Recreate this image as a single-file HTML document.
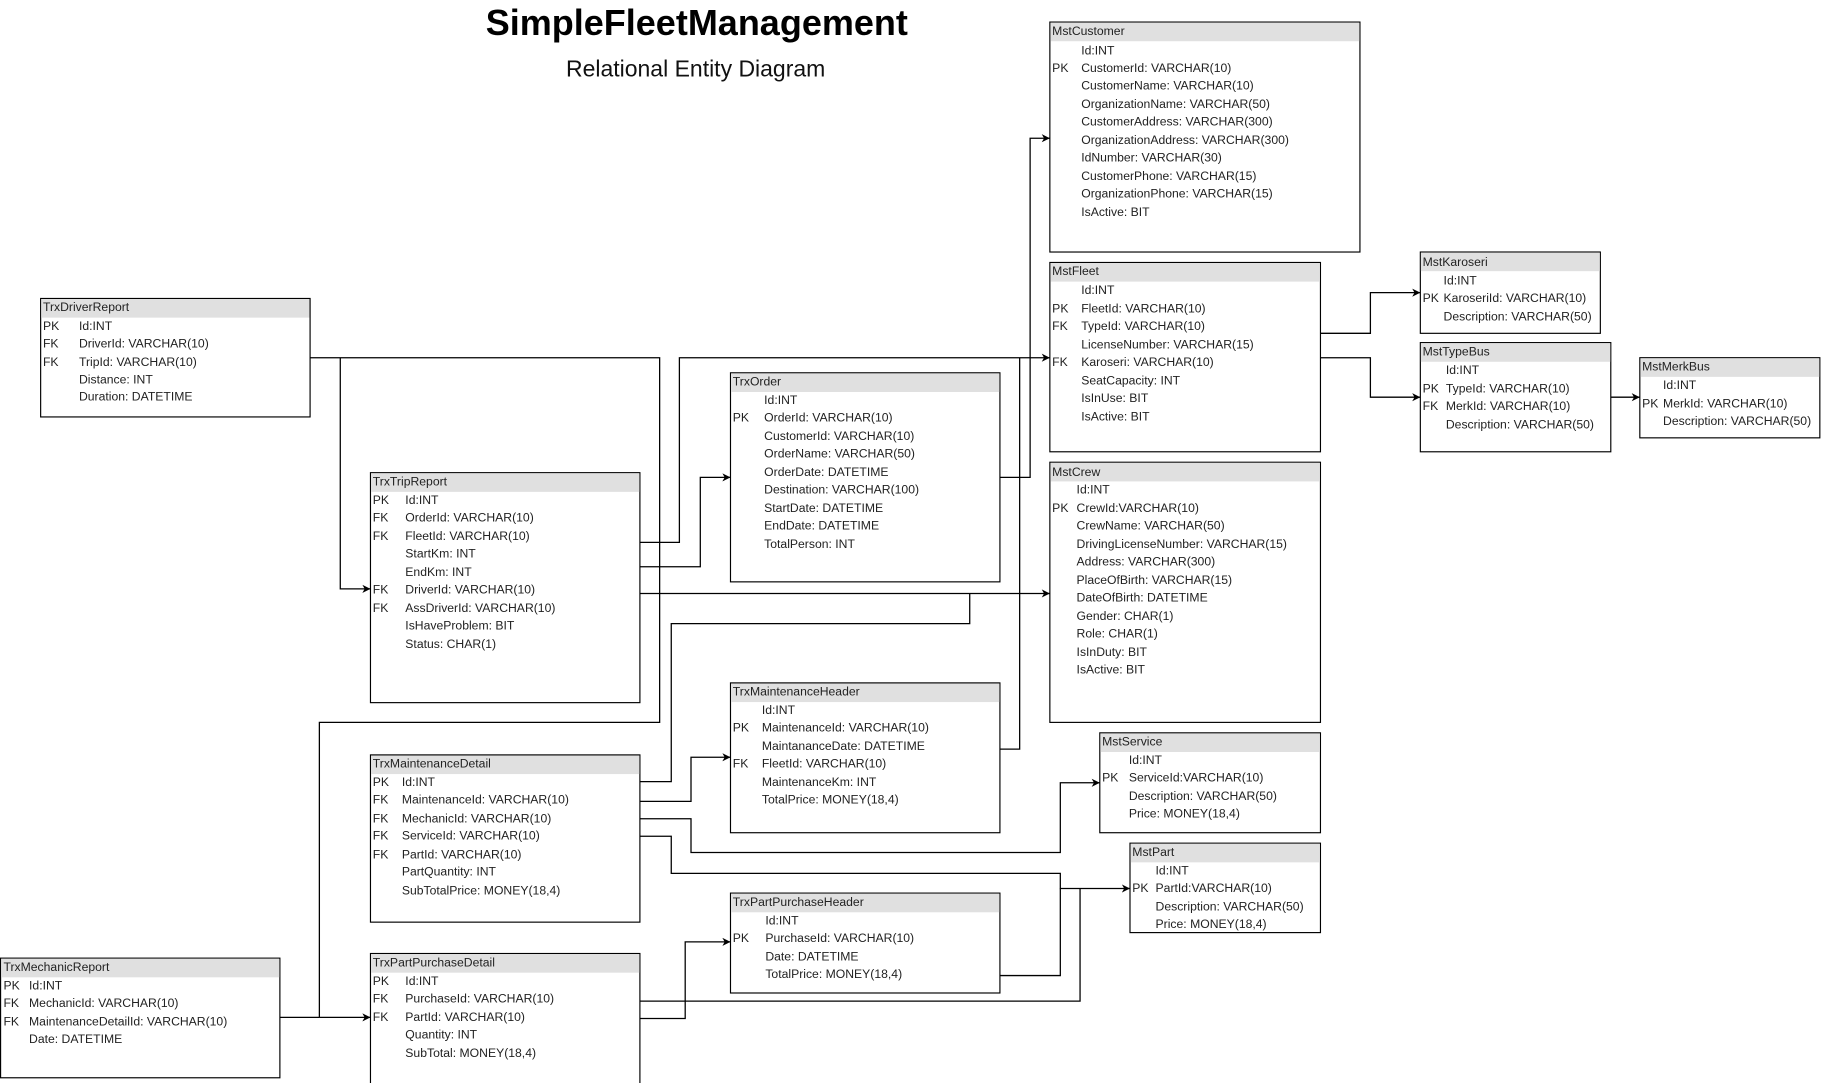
<!DOCTYPE html>
<html><head><meta charset="utf-8"><style>
html,body{margin:0;padding:0;background:#fff;}
svg{display:block;}
text{font-family:"Liberation Sans",Arial,sans-serif;font-size:10.5px;fill:#222;}
.h{fill:#e0e0e0;stroke:none;}
.b{fill:#fff;stroke:#000;stroke-width:1;}
.l{fill:none;stroke:#000;stroke-width:1.1;}
</style></head><body>
<svg width="1821" height="1083" viewBox="0 0 1568 932.5" preserveAspectRatio="none" xmlns="http://www.w3.org/2000/svg">
<defs><marker id="a" markerWidth="8" markerHeight="8" refX="7" refY="4" orient="auto" markerUnits="userSpaceOnUse"><path d="M0,0.5 L7,4 L0,7.5 L2,4 Z" fill="#000"/></marker></defs>
<text x="600" y="30" text-anchor="middle" style="font-size:31px;font-weight:bold;fill:#000">SimpleFleetManagement</text>
<text x="599" y="66" text-anchor="middle" style="font-size:19.8px;fill:#111">Relational Entity Diagram</text>

<!-- connectors -->
<path class="l" d="M267,308 H568 V622 H275 V876 M241,876 H275"/>
<path class="l" d="M293,308 V507 H319" marker-end="url(#a)"/>
<path class="l" d="M275,876 H319" marker-end="url(#a)"/>
<path class="l" d="M551,467 H585 V308 H904" marker-end="url(#a)"/>
<path class="l" d="M551,488 H603 V411 H629" marker-end="url(#a)"/>
<path class="l" d="M551,511 H904" marker-end="url(#a)"/>
<path class="l" d="M861,411 H887 V119 H904" marker-end="url(#a)"/>
<path class="l" d="M861,645 H878 V308"/>
<path class="l" d="M551,673 H578 V537 H835 V511"/>
<path class="l" d="M551,690 H595 V652 H629" marker-end="url(#a)"/>
<path class="l" d="M551,705 H595 V734 H913 V674 H947" marker-end="url(#a)"/>
<path class="l" d="M551,720 H578 V752 H913 V765 H973" marker-end="url(#a)"/>
<path class="l" d="M861,840 H913 V765"/>
<path class="l" d="M551,862 H930 V765"/>
<path class="l" d="M551,877 H590 V811 H629" marker-end="url(#a)"/>
<path class="l" d="M1137,287 H1180 V252 H1223" marker-end="url(#a)"/>
<path class="l" d="M1137,308 H1180 V342 H1223" marker-end="url(#a)"/>
<path class="l" d="M1387,342 H1412" marker-end="url(#a)"/>

<!-- TrxDriverReport -->
<rect class="b" x="35" y="257" width="232" height="102"/><rect class="h" x="35.5" y="257.5" width="231" height="16"/>
<text x="37" y="268">TrxDriverReport</text>
<text x="37" y="284">PK</text><text x="68" y="284">Id:INT</text>
<text x="37" y="299">FK</text><text x="68" y="299">DriverId: VARCHAR(10)</text>
<text x="37" y="315">FK</text><text x="68" y="315">TripId: VARCHAR(10)</text>
<text x="68" y="330">Distance: INT</text>
<text x="68" y="345">Duration: DATETIME</text>

<!-- TrxTripReport -->
<rect class="b" x="319" y="407" width="232" height="198"/><rect class="h" x="319.5" y="407.5" width="231" height="16"/>
<text x="321" y="418">TrxTripReport</text>
<text x="321" y="434">PK</text><text x="349" y="434">Id:INT</text>
<text x="321" y="449">FK</text><text x="349" y="449">OrderId: VARCHAR(10)</text>
<text x="321" y="465">FK</text><text x="349" y="465">FleetId: VARCHAR(10)</text>
<text x="349" y="480">StartKm: INT</text>
<text x="349" y="496">EndKm: INT</text>
<text x="321" y="511">FK</text><text x="349" y="511">DriverId: VARCHAR(10)</text>
<text x="321" y="527">FK</text><text x="349" y="527">AssDriverId: VARCHAR(10)</text>
<text x="349" y="542">IsHaveProblem: BIT</text>
<text x="349" y="558">Status: CHAR(1)</text>

<!-- TrxOrder -->
<rect class="b" x="629" y="321" width="232" height="180"/><rect class="h" x="629.5" y="321.5" width="231" height="16"/>
<text x="631" y="332">TrxOrder</text>
<text x="658" y="348">Id:INT</text>
<text x="631" y="363">PK</text><text x="658" y="363">OrderId: VARCHAR(10)</text>
<text x="658" y="379">CustomerId: VARCHAR(10)</text>
<text x="658" y="394">OrderName: VARCHAR(50)</text>
<text x="658" y="410">OrderDate: DATETIME</text>
<text x="658" y="425">Destination: VARCHAR(100)</text>
<text x="658" y="441">StartDate: DATETIME</text>
<text x="658" y="456">EndDate: DATETIME</text>
<text x="658" y="472">TotalPerson: INT</text>

<!-- MstCustomer -->
<rect class="b" x="904" y="19" width="267" height="198"/><rect class="h" x="904.5" y="19.5" width="266" height="16"/>
<text x="906" y="30">MstCustomer</text>
<text x="931" y="47">Id:INT</text>
<text x="906" y="62">PK</text><text x="931" y="62">CustomerId: VARCHAR(10)</text>
<text x="931" y="77">CustomerName: VARCHAR(10)</text>
<text x="931" y="93">OrganizationName: VARCHAR(50)</text>
<text x="931" y="108">CustomerAddress: VARCHAR(300)</text>
<text x="931" y="124">OrganizationAddress: VARCHAR(300)</text>
<text x="931" y="139">IdNumber: VARCHAR(30)</text>
<text x="931" y="155">CustomerPhone: VARCHAR(15)</text>
<text x="931" y="170">OrganizationPhone: VARCHAR(15)</text>
<text x="931" y="186">IsActive: BIT</text>

<!-- MstFleet -->
<rect class="b" x="904" y="226" width="233" height="163"/><rect class="h" x="904.5" y="226.5" width="232" height="16"/>
<text x="906" y="237">MstFleet</text>
<text x="931" y="253">Id:INT</text>
<text x="906" y="269">PK</text><text x="931" y="269">FleetId: VARCHAR(10)</text>
<text x="906" y="284">FK</text><text x="931" y="284">TypeId: VARCHAR(10)</text>
<text x="931" y="300">LicenseNumber: VARCHAR(15)</text>
<text x="906" y="315">FK</text><text x="931" y="315">Karoseri: VARCHAR(10)</text>
<text x="931" y="331">SeatCapacity: INT</text>
<text x="931" y="346">IsInUse: BIT</text>
<text x="931" y="362">IsActive: BIT</text>

<!-- MstKaroseri -->
<rect class="b" x="1223" y="217" width="155" height="70"/><rect class="h" x="1223.5" y="217.5" width="154" height="16"/>
<text x="1225" y="229">MstKaroseri</text>
<text x="1243" y="245">Id:INT</text>
<text x="1225" y="260">PK</text><text x="1243" y="260">KaroseriId: VARCHAR(10)</text>
<text x="1243" y="276">Description: VARCHAR(50)</text>

<!-- MstTypeBus -->
<rect class="b" x="1223" y="295" width="164" height="94"/><rect class="h" x="1223.5" y="295.5" width="163" height="16"/>
<text x="1225" y="306">MstTypeBus</text>
<text x="1245" y="322">Id:INT</text>
<text x="1225" y="338">PK</text><text x="1245" y="338">TypeId: VARCHAR(10)</text>
<text x="1225" y="353">FK</text><text x="1245" y="353">MerkId: VARCHAR(10)</text>
<text x="1245" y="369">Description: VARCHAR(50)</text>

<!-- MstMerkBus -->
<rect class="b" x="1412" y="308" width="155" height="69"/><rect class="h" x="1412.5" y="308.5" width="154" height="16"/>
<text x="1414" y="319">MstMerkBus</text>
<text x="1432" y="335">Id:INT</text>
<text x="1414" y="351">PK</text><text x="1432" y="351">MerkId: VARCHAR(10)</text>
<text x="1432" y="366">Description: VARCHAR(50)</text>

<!-- MstCrew -->
<rect class="b" x="904" y="398" width="233" height="224"/><rect class="h" x="904.5" y="398.5" width="232" height="16"/>
<text x="906" y="410">MstCrew</text>
<text x="927" y="425">Id:INT</text>
<text x="906" y="441">PK</text><text x="927" y="441">CrewId:VARCHAR(10)</text>
<text x="927" y="456">CrewName: VARCHAR(50)</text>
<text x="927" y="472">DrivingLicenseNumber: VARCHAR(15)</text>
<text x="927" y="487">Address: VARCHAR(300)</text>
<text x="927" y="503">PlaceOfBirth: VARCHAR(15)</text>
<text x="927" y="518">DateOfBirth: DATETIME</text>
<text x="927" y="534">Gender: CHAR(1)</text>
<text x="927" y="549">Role: CHAR(1)</text>
<text x="927" y="565">IsInDuty: BIT</text>
<text x="927" y="580">IsActive: BIT</text>

<!-- MstService -->
<rect class="b" x="947" y="631" width="190" height="86"/><rect class="h" x="947.5" y="631.5" width="189" height="16"/>
<text x="949" y="642">MstService</text>
<text x="972" y="658">Id:INT</text>
<text x="949" y="673">PK</text><text x="972" y="673">ServiceId:VARCHAR(10)</text>
<text x="972" y="689">Description: VARCHAR(50)</text>
<text x="972" y="704">Price: MONEY(18,4)</text>

<!-- MstPart -->
<rect class="b" x="973" y="726" width="164" height="77"/><rect class="h" x="973.5" y="726.5" width="163" height="16"/>
<text x="975" y="737">MstPart</text>
<text x="995" y="753">Id:INT</text>
<text x="975" y="768">PK</text><text x="995" y="768">PartId:VARCHAR(10)</text>
<text x="995" y="784">Description: VARCHAR(50)</text>
<text x="995" y="799">Price: MONEY(18,4)</text>

<!-- TrxMaintenanceHeader -->
<rect class="b" x="629" y="588" width="232" height="129"/><rect class="h" x="629.5" y="588.5" width="231" height="16"/>
<text x="631" y="599">TrxMaintenanceHeader</text>
<text x="656" y="615">Id:INT</text>
<text x="631" y="630">PK</text><text x="656" y="630">MaintenanceId: VARCHAR(10)</text>
<text x="656" y="646">MaintananceDate: DATETIME</text>
<text x="631" y="661">FK</text><text x="656" y="661">FleetId: VARCHAR(10)</text>
<text x="656" y="677">MaintenanceKm: INT</text>
<text x="656" y="692">TotalPrice: MONEY(18,4)</text>

<!-- TrxMaintenanceDetail -->
<rect class="b" x="319" y="650" width="232" height="144"/><rect class="h" x="319.5" y="650.5" width="231" height="16"/>
<text x="321" y="661">TrxMaintenanceDetail</text>
<text x="321" y="677">PK</text><text x="346" y="677">Id:INT</text>
<text x="321" y="692">FK</text><text x="346" y="692">MaintenanceId: VARCHAR(10)</text>
<text x="321" y="708">FK</text><text x="346" y="708">MechanicId: VARCHAR(10)</text>
<text x="321" y="723">FK</text><text x="346" y="723">ServiceId: VARCHAR(10)</text>
<text x="321" y="739">FK</text><text x="346" y="739">PartId: VARCHAR(10)</text>
<text x="346" y="754">PartQuantity: INT</text>
<text x="346" y="770">SubTotalPrice: MONEY(18,4)</text>

<!-- TrxPartPurchaseHeader -->
<rect class="b" x="629" y="769" width="232" height="86"/><rect class="h" x="629.5" y="769.5" width="231" height="16"/>
<text x="631" y="780">TrxPartPurchaseHeader</text>
<text x="659" y="796">Id:INT</text>
<text x="631" y="811">PK</text><text x="659" y="811">PurchaseId: VARCHAR(10)</text>
<text x="659" y="827">Date: DATETIME</text>
<text x="659" y="842">TotalPrice: MONEY(18,4)</text>

<!-- TrxPartPurchaseDetail -->
<rect class="b" x="319" y="821" width="232" height="112"/><rect class="h" x="319.5" y="821.5" width="231" height="16"/>
<text x="321" y="832">TrxPartPurchaseDetail</text>
<text x="321" y="848">PK</text><text x="349" y="848">Id:INT</text>
<text x="321" y="863">FK</text><text x="349" y="863">PurchaseId: VARCHAR(10)</text>
<text x="321" y="879">FK</text><text x="349" y="879">PartId: VARCHAR(10)</text>
<text x="349" y="894">Quantity: INT</text>
<text x="349" y="910">SubTotal: MONEY(18,4)</text>

<!-- TrxMechanicReport -->
<rect class="b" x="0.5" y="825" width="240.5" height="103"/><rect class="h" x="1" y="825.5" width="239.5" height="16"/>
<text x="3" y="836">TrxMechanicReport</text>
<text x="3" y="852">PK</text><text x="25" y="852">Id:INT</text>
<text x="3" y="867">FK</text><text x="25" y="867">MechanicId: VARCHAR(10)</text>
<text x="3" y="883">FK</text><text x="25" y="883">MaintenanceDetailId: VARCHAR(10)</text>
<text x="25" y="898">Date: DATETIME</text>
</svg>
</body></html>
